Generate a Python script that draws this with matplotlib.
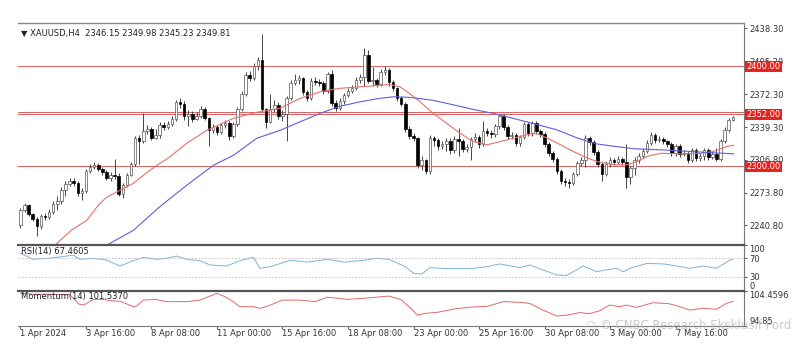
import matplotlib
matplotlib.use("Agg")
import matplotlib.pyplot as plt

# XAUUSD H4 bars, 1 Apr 2024 onwards
first_open = 2241
close = [2256, 2261, 2252, 2247, 2240, 2250, 2249, 2254, 2262, 2265,
         2276, 2282, 2285, 2283, 2273, 2275, 2295, 2299, 2301, 2297,
         2294, 2288, 2291, 2290, 2272, 2281, 2291, 2302, 2328, 2325,
         2335, 2337, 2328, 2331, 2341, 2339, 2342, 2347, 2364, 2362,
         2350, 2352, 2347, 2350, 2357, 2348, 2336, 2339, 2334, 2341,
         2343, 2330, 2342, 2357, 2372, 2391, 2388, 2400, 2406, 2357,
         2344, 2357, 2361, 2350, 2352, 2368, 2383, 2386, 2388, 2374,
         2368, 2385, 2384, 2383, 2375, 2392, 2363, 2358, 2365, 2371,
         2375, 2378, 2386, 2389, 2411, 2385, 2386, 2382, 2394, 2396,
         2384, 2378, 2368, 2362, 2337, 2330, 2328, 2301, 2306, 2295,
         2328, 2326, 2320, 2322, 2325, 2316, 2327, 2325, 2317, 2319,
         2327, 2329, 2322, 2335, 2333, 2332, 2340, 2350, 2339, 2330,
         2331, 2323, 2329, 2342, 2333, 2343, 2335, 2332, 2322, 2313,
         2307, 2295, 2285, 2284, 2283, 2292, 2303, 2306, 2328, 2324,
         2314, 2302, 2292, 2302, 2306, 2304, 2307, 2304, 2289, 2298,
         2306, 2310, 2315, 2323, 2331, 2326, 2327, 2325, 2322, 2313,
         2320, 2312, 2313, 2306, 2316, 2308, 2310, 2316, 2309, 2312,
         2307, 2325, 2336, 2346.15, 2349.81]
high = [2258, 2263, 2262, 2253, 2249, 2252, 2253, 2257, 2265, 2270,
        2279, 2285, 2288, 2288, 2285, 2278, 2297, 2302, 2304, 2303,
        2299, 2296, 2294, 2307, 2293, 2283, 2293, 2304, 2330, 2331,
        2353, 2341, 2339, 2337, 2344, 2344, 2345, 2350, 2366, 2368,
        2365, 2356, 2355, 2354, 2360, 2359, 2349, 2342, 2341, 2343,
        2346, 2345, 2344, 2359, 2375, 2394, 2395, 2403, 2409, 2432,
        2358, 2372, 2366, 2364, 2356, 2370, 2386, 2392, 2391, 2389,
        2376, 2388, 2389, 2387, 2385, 2394, 2396, 2366, 2368, 2373,
        2378, 2381, 2389, 2392, 2418, 2416, 2399, 2388, 2397, 2400,
        2398, 2386, 2379, 2370, 2364, 2340, 2333, 2329, 2310, 2307,
        2331, 2330, 2328, 2325, 2328, 2328, 2330, 2338, 2327, 2322,
        2329, 2333, 2331, 2345, 2338, 2336, 2342, 2352, 2352, 2341,
        2334, 2333, 2331, 2344, 2344, 2345, 2345, 2337, 2334, 2324,
        2315, 2309, 2297, 2288, 2287, 2294, 2305, 2309, 2331, 2330,
        2326, 2316, 2304, 2305, 2309, 2308, 2310, 2309, 2322, 2300,
        2309, 2313, 2318, 2326, 2334, 2333, 2330, 2329, 2326, 2324,
        2322, 2322, 2316, 2315, 2318, 2318, 2313, 2318, 2318, 2315,
        2318, 2327, 2339, 2348, 2349.98]
low = [2238, 2254, 2250, 2245, 2230, 2237, 2246, 2247, 2252, 2256,
       2262, 2270, 2280, 2280, 2270, 2266, 2273, 2293, 2297, 2295,
       2291, 2286, 2285, 2287, 2270, 2268, 2279, 2290, 2300, 2302,
       2323, 2332, 2326, 2327, 2328, 2336, 2337, 2340, 2345, 2358,
       2346, 2340, 2344, 2346, 2348, 2346, 2320, 2333, 2331, 2332,
       2338, 2326, 2328, 2340, 2355, 2370, 2385, 2386, 2396, 2355,
       2338, 2343, 2354, 2347, 2345, 2325, 2366, 2381, 2382, 2371,
       2365, 2366, 2381, 2380, 2372, 2373, 2360, 2355, 2356, 2362,
       2369, 2373, 2376, 2383, 2380, 2383, 2380, 2379, 2380, 2391,
       2380, 2375, 2365, 2360, 2334, 2327, 2325, 2298, 2296, 2292,
       2292, 2320, 2316, 2317, 2315, 2312, 2313, 2310, 2314, 2314,
       2306, 2324, 2318, 2320, 2330, 2328, 2329, 2337, 2336, 2327,
       2327, 2320, 2320, 2327, 2330, 2330, 2332, 2329, 2319, 2310,
       2304, 2292, 2282, 2280, 2278, 2281, 2290, 2300, 2299, 2321,
       2311, 2299, 2285, 2290, 2299, 2301, 2302, 2301, 2278, 2282,
       2291, 2303, 2308, 2313, 2321, 2323, 2324, 2322, 2319, 2310,
       2310, 2309, 2310, 2303, 2304, 2305, 2305, 2306, 2306, 2307,
       2305, 2305, 2323, 2334, 2345.23]

# moving averages, sampled points (bar index, price)
ma_fast_x = [8.4, 12.4, 16.2, 19, 21, 24.3, 27.6, 30.3, 33.3, 36, 40.6, 45.5, 52, 57.7,
             63.4, 68.3, 73.2, 78, 82.9, 87.8, 90.2, 92.7, 95, 97.6, 100.8, 104.1,
             107.4, 110.5, 113.9, 117, 120.3, 123.6, 126, 127.7, 131, 134.2, 137.5,
             140.6, 145, 148.2, 150.7, 153.1, 156.4, 161.3, 166.2, 169.4, 172.7, 174.2]
ma_fast_y = [2221, 2236, 2246, 2261, 2269, 2276, 2283, 2292, 2301, 2308, 2323, 2336, 2348, 2354,
             2358, 2368, 2374.5, 2378, 2379.5, 2381, 2382, 2379.5, 2373, 2364.5, 2353, 2343,
             2333, 2325, 2321.5, 2324.5, 2328, 2331.5, 2333, 2330, 2323.5, 2316.5, 2310,
             2305, 2301.5, 2301.5, 2305, 2310, 2313, 2312.5, 2313, 2315, 2320, 2321]
ma_slow_x = [21, 27.6, 34, 40.6, 47.1, 52, 57.7, 63.4, 68.3, 73.2, 78, 82.9, 87.8, 91.1,
             95, 100.8, 105.7, 110.5, 115.4, 120.3, 126, 131, 135.9, 140.6, 145, 150,
             156.4, 162.9, 169.4, 174.2]
ma_slow_y = [2221, 2236, 2259.5, 2281, 2301, 2311, 2328, 2336, 2344.5, 2353, 2360, 2364.5,
             2368, 2369.5, 2369, 2366, 2361.5, 2357, 2353, 2348, 2342, 2336.5, 2328.5, 2322.5,
             2320, 2317.5, 2316.5, 2315, 2313.5, 2312.5]

hlines = [2400, 2354.5, 2352, 2300]
price_boxes = [2400, 2352, 2300]
price_ticks = [2438.30, 2405.30, 2372.30, 2339.30, 2306.80, 2273.80, 2240.80]

rsi_x = [0, 3.1, 6.4, 10.5, 12.9, 14.5, 17.8, 21, 24.3, 27.6, 30, 33.3, 35.7, 38.1, 40.6,
         43.8, 46.3, 50.4, 53.6, 56.9, 58.5, 61, 66, 70, 75, 79, 83, 87, 90, 92, 94, 96,
         98, 100, 104, 110, 114, 117, 122, 124.4, 127.6, 131, 133.4, 135, 137.4, 140.7,
         143, 145.6, 147.2, 148.8, 153, 157, 160.3, 163.5, 166.8, 170, 173.3, 174]
rsi_y = [81, 68, 70, 74, 77, 68, 70, 66.5, 53.5, 65, 72, 68, 70, 75, 68,
         65, 55.7, 53.5, 65, 72, 48.5, 52, 66, 62, 68, 62, 65, 70, 68, 60, 52, 38,
         36, 50, 48, 48, 52, 58, 50, 55.7, 45, 34, 33, 41, 53.5, 41,
         45, 48.5, 41, 48.5, 59, 58, 53.5, 48.5, 53.5, 48.5, 66.5, 67.46]

mom_x = [0, 3, 8, 12, 14.3, 15.5, 17.8, 20, 22.7, 24.3, 27.6, 28.4, 30, 33, 35.7, 38,
         40.6, 43.8, 48, 50.4, 52, 53.6, 56.9, 58.5, 60, 64, 68, 72, 75, 80, 85, 90,
         93, 95, 97, 99, 102, 106, 110, 114, 118, 122, 124.4, 127.6, 131, 133.4,
         136.6, 139, 141.5, 143.9, 146.4, 148, 150.4, 154.5, 158.5, 161, 163.5,
         166.8, 170, 172.4, 174]
mom_y = [103.75, 103.5, 103.48, 103.4, 100.8, 100.56, 102.11, 102.1, 101.65, 101.6,
         100.1, 100.3, 101.9, 102.1, 101.46, 101.5, 101.46, 101.9, 103.75, 102.6, 101.46,
         100.1, 100.1, 99.66, 100.1, 101.9, 101.9, 101.5, 102.7, 102.1, 102.5, 103.0,
         102.0, 100.0, 97.8, 98.3, 98.6, 99.5, 100.0, 100.2, 101.5, 101.3, 101.0, 99.2,
         97.57, 97.8, 98.5, 98.2, 99.0, 100.56, 100.1, 100.56, 99.9, 101.2, 100.9, 100.1,
         99.2, 99.66, 99.4, 101.0, 101.54]

date_pos = [0, 16, 32, 48, 64, 80, 96, 112, 128, 144, 160]
date_lbl = ['1 Apr 2024', '3 Apr 16:00', '8 Apr 08:00', '11 Apr 00:00', '15 Apr 16:00',
            '18 Apr 08:00', '23 Apr 00:00', '25 Apr 16:00', '30 Apr 08:00', '3 May 00:00',
            '7 May 16:00']

plt.rcParams['font.family'] = ['DejaVu Sans']
fs = 6

fig = plt.figure(figsize=(8, 3.54), dpi=100)
L, W = 18 / 800, 725.5 / 800
ax1 = fig.add_axes([L, 0.3099, W, 0.625])
ax2 = fig.add_axes([L, 0.1788, W, 0.1305])
ax3 = fig.add_axes([L, 0.0791, W, 0.0997])
xl = (-0.6, 176.6)

# candles
opens = [first_open] + close[:-1]
for i in range(len(close)):
    o, c, h, l = opens[i], close[i], high[i], low[i]
    bull = c >= o
    ax1.vlines(i, l, h, color='#444444', lw=0.7, zorder=2)
    bot, top = min(o, c), max(o, c)
    if top - bot < 0.8:
        top = bot + 0.8
    ax1.bar(i, top - bot, bottom=bot, width=0.62,
            facecolor='white' if bull else 'black',
            edgecolor='#555555' if bull else 'black', lw=0.5, zorder=3)

ax1.plot(ma_fast_x, ma_fast_y, color='#e8706a', lw=0.8, zorder=4)
ax1.plot(ma_slow_x, ma_slow_y, color='#5e5ee0', lw=0.8, zorder=4)
for v in hlines:
    ax1.axhline(v, color='#e06060', lw=0.7, zorder=1)

ax1.set_xlim(*xl)
ax1.set_ylim(2222.0, 2443.3)
ax1.yaxis.tick_right()
ax1.set_yticks(price_ticks)
ax1.set_yticklabels(['%.2f' % v for v in price_ticks], fontsize=fs, color='#333333')
ax1.tick_params(axis='y', length=2, pad=2, color='#666666')
ax1.set_xticks([])
for v in price_boxes:
    ax1.text(1.004, v, '%.2f' % v, transform=ax1.get_yaxis_transform(), fontsize=fs,
             color='white', va='center', ha='left', zorder=10,
             bbox=dict(boxstyle='square,pad=0.15', facecolor='#e8221e', edgecolor='none'))
ax1.text(0.004, 0.975, '\u25bc XAUUSD,H4  2346.15 2349.98 2345.23 2349.81',
         transform=ax1.transAxes, fontsize=fs, va='top', ha='left', color='#222222')

# RSI
ax2.plot(rsi_x, rsi_y, color='#7ab3e0', lw=0.7)
for v in (30, 70):
    ax2.axhline(v, color='#bbbbbb', lw=0.6, ls=(0, (2, 2)))
ax2.set_xlim(*xl)
ax2.set_ylim(0, 100)
ax2.yaxis.tick_right()
ax2.set_yticks([0, 30, 70, 100])
ax2.set_yticklabels(['0', '30', '70', '100'], fontsize=fs, color='#333333')
tl = ax2.get_yticklabels()
tl[0].set_va('bottom')
tl[3].set_va('top')
ax2.tick_params(axis='y', length=2, pad=2, color='#666666')
ax2.set_xticks([])
ax2.text(0.004, 0.95, 'RSI(14) 67.4605', transform=ax2.transAxes, fontsize=fs,
         va='top', ha='left', color='#222222')

# Momentum
ax3.plot(mom_x, mom_y, color='#e06a6a', lw=0.7)
ax3.set_xlim(*xl)
ax3.set_ylim(94.85, 104.4596)
ax3.yaxis.tick_right()
ax3.set_yticks([94.85, 104.4596])
ax3.set_yticklabels(['94.85', '104.4596'], fontsize=fs, color='#333333')
tl = ax3.get_yticklabels()
tl[0].set_va('bottom')
tl[1].set_va('top')
ax3.tick_params(axis='y', length=2, pad=2, color='#666666')
ax3.text(0.004, 0.95, 'Momentum(14) 101.5370', transform=ax3.transAxes, fontsize=fs,
         va='top', ha='left', color='#222222')
ax3.set_xticks(date_pos)
ax3.set_xticklabels(date_lbl, fontsize=fs, color='#333333', ha='left')
ax3.tick_params(axis='x', length=2, pad=0.5, color='#666666')

for a in (ax1, ax2, ax3):
    a.spines['left'].set_visible(False)
    a.spines['right'].set_color('#777777')
    a.spines['top'].set_color('#555555')
    a.spines['top'].set_linewidth(1.6)
    a.spines['bottom'].set_visible(False)
ax1.spines['top'].set_linewidth(1.0)
ax1.spines['top'].set_color('#888888')
ax3.spines['bottom'].set_visible(True)
ax3.spines['bottom'].set_color('#777777')

# faint watermark bottom right
fig.text(0.733, 0.082, '\u25cb \u00a9 CNBC Research Eksklusif Ford', fontsize=8.5,
         color='#bbbbbb', alpha=0.8, va='center', ha='left')

fig.savefig('out.png', dpi=100)
